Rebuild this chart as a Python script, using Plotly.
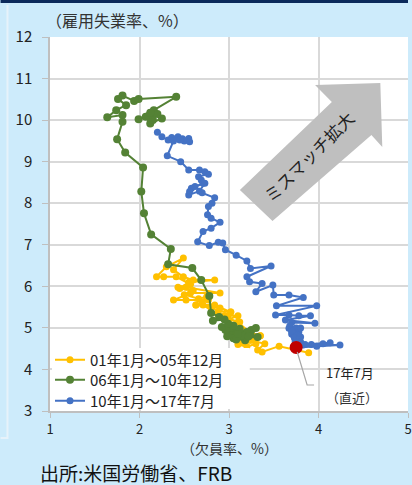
import plotly.graph_objects as go

# ---------------- data ----------------
series_names = ["01年1月～05年12月", "06年1月～10年12月", "10年1月～17年7月"]

# 2001/01 - 2005/12 : vacancy rate (x), unemployment rate (y)
s01_x = [3.89, 3.56, 3.37, 3.32, 3.40, 3.24, 3.35, 3.15, 3.30, 3.10, 2.99, 2.88,
         2.71, 2.90, 3.02, 2.84, 2.63, 2.77, 2.52, 2.38, 2.57, 2.90, 2.52, 2.43,
         2.57, 2.41, 2.27, 2.19, 2.30, 2.49, 2.38, 2.49, 2.60, 2.84, 2.55, 2.45,
         2.60, 2.50, 2.66, 2.75, 2.70, 2.63, 2.80, 2.88, 3.02, 2.95, 3.10, 2.99,
         3.12, 3.00, 3.05, 3.15, 3.24, 3.35, 3.30, 3.15, 3.24, 3.30, 3.20, 3.10]
s01_y = [4.40, 4.56, 4.42, 4.47, 4.62, 4.70, 4.81, 4.66, 4.76, 5.14, 5.24, 5.31,
         5.55, 5.48, 5.38, 5.55, 5.55, 5.67, 5.67, 5.67, 5.84, 5.84, 5.98, 5.98,
         6.05, 6.23, 6.23, 6.23, 6.47, 6.68, 6.40, 6.23, 6.15, 6.15, 6.10, 5.95,
         5.90, 5.80, 5.70, 5.75, 5.62, 5.55, 5.50, 5.40, 5.38, 5.30, 5.29, 5.20,
         5.14, 5.10, 5.02, 4.95, 4.90, 4.81, 4.76, 4.66, 4.70, 4.62, 4.55, 4.60]

# 2006/01 - 2010/12
s06_x = [3.05, 3.15, 3.25, 3.12, 3.30, 3.20, 3.10, 3.32, 3.05, 3.18, 3.24, 3.00,
         3.10, 3.20, 3.15, 2.98, 3.08, 3.22, 3.12, 3.02, 3.10, 2.96, 3.05, 2.92,
         2.99, 2.89, 2.82, 2.95, 2.80, 2.78, 2.69, 2.59, 2.32, 2.35, 2.13, 2.05,
         2.02, 2.04, 1.84, 1.75, 1.81, 1.81, 1.64, 1.74, 1.85, 1.76, 1.81, 1.94,
         1.99, 2.41, 2.16, 2.14, 2.07, 2.12, 2.25, 2.20, 1.99, 2.10, 2.15, 2.12]
s06_y = [4.90, 4.85, 4.95, 4.80, 5.00, 4.78, 4.88, 4.78, 4.75, 4.70, 4.85, 4.92,
         4.95, 4.90, 4.82, 4.80, 4.72, 4.80, 4.98, 5.00, 4.85, 4.95, 5.05, 5.02,
         5.10, 5.26, 5.17, 5.20, 5.36, 5.77, 6.15, 6.44, 6.53, 6.90, 7.25, 7.76,
         8.28, 8.86, 9.22, 9.54, 9.96, 10.12, 10.07, 10.24, 10.36, 10.51, 10.59, 10.46,
         10.51, 10.56, 10.24, 10.08, 10.08, 9.92, 10.04, 10.15, 10.02, 10.10, 10.00, 10.18]

# 2010/01 - 2017/07
s10_x = [2.20, 2.25, 2.32, 2.36, 2.43, 2.48, 2.55, 2.50, 2.56, 2.45, 2.38, 2.31,
         2.46, 2.55, 2.67, 2.73, 2.77, 2.66, 2.69, 2.71, 2.58, 2.56, 2.55, 2.67,
         2.73, 2.62, 2.70, 2.84, 2.81, 2.77, 2.76, 2.80, 2.90, 2.80, 2.71, 2.65,
         2.78, 2.88, 2.93, 2.96, 3.08, 3.20, 3.24, 3.47, 3.20, 3.23, 3.37, 3.30,
         3.49, 3.50, 3.67, 3.83, 3.53, 3.98, 3.52, 3.67, 3.78, 3.91, 3.63, 3.96,
         3.70, 3.67, 3.72, 3.68, 3.75, 3.70, 3.76, 3.72, 3.80, 3.74, 3.70, 3.78,
         3.74, 3.80, 3.72, 3.76, 3.70, 3.75, 3.73, 3.78, 3.74, 3.80, 3.76, 3.83,
         4.13, 3.92, 4.05, 3.85, 4.24, 3.98, 3.75]
s10_y = [9.71, 9.60, 9.52, 9.58, 9.60, 9.55, 9.56, 9.50, 9.48, 9.52, 9.50, 9.14,
         9.00, 8.80, 8.80, 8.76, 8.70, 8.64, 8.56, 8.48, 8.36, 8.28, 8.20, 8.29,
         8.48, 8.40, 8.25, 8.13, 8.00, 7.92, 7.72, 7.64, 7.54, 7.40, 7.32, 7.07,
         6.98, 7.06, 7.04, 6.88, 6.75, 6.61, 6.43, 6.49, 6.23, 6.11, 6.07, 5.87,
         6.03, 5.79, 5.79, 5.73, 5.53, 5.53, 5.31, 5.31, 5.29, 5.29, 5.19, 5.11,
         5.13, 4.99, 4.91, 5.05, 5.00, 4.95, 4.87, 4.82, 4.78, 4.75, 4.85, 4.90,
         4.95, 5.00, 4.88, 4.83, 4.92, 4.80, 4.76, 4.72, 4.68, 4.66, 4.62, 4.59,
         4.64, 4.60, 4.62, 4.60, 4.59, 4.56, 4.53]

latest_label = ["17年7月", "（直近）"]
arrow_label = "ミスマッチ拡大"
x_title = "（欠員率、%）"
y_title = "（雇用失業率、%）"
source_text = "出所:米国労働省、FRB"
x_ticks = [1, 2, 3, 4, 5]
y_ticks = [3, 4, 5, 6, 7, 8, 9, 10, 11, 12]

# ---------------- styling / layout ----------------
W, H = 412, 485
L, R, T, B = 50, 0, 37, 74
PW, PH = W - L - R, H - T - B
FONT = "Noto Sans CJK JP, Noto Sans, sans-serif"


def px(xp):
    return (xp - L) / PW


def py(yp):
    return (H - B - yp) / PH


colors = ["#FFC000", "#548235", "#4472C4"]
msize = [7, 8, 7]
legend_ids = ["legend", "legend2", "legend3"]
legend_rows_px = [360, 380, 401]

fig = go.Figure()
for name, xs, ys, c, ms, lg in zip(series_names, [s01_x, s06_x, s10_x], [s01_y, s06_y, s10_y],
                                   colors, msize, legend_ids):
    fig.add_trace(go.Scatter(x=xs, y=ys, mode="lines+markers", name=name, legend=lg,
                             line=dict(color=c, width=2),
                             marker=dict(color=c, size=ms),
                             hoverinfo="skip"))

fig.add_trace(go.Scatter(x=[s10_x[-1]], y=[s10_y[-1]], mode="markers",
                         marker=dict(color="#C00000", size=13), showlegend=False,
                         hoverinfo="skip"))

shapes = []
# white backing behind the legend block
shapes.append(dict(type="rect", xref="paper", yref="paper", x0=px(52), x1=px(252), y0=py(409), y1=py(348),
                   fillcolor="#FFFFFF", line=dict(width=0), layer="above"))
# top navy bar
shapes.append(dict(type="rect", xref="paper", yref="paper", x0=px(0), x1=px(W), y0=py(3), y1=py(0),
                   fillcolor="#0B2A5B", line=dict(width=0), layer="above"))
# left frame line
shapes.append(dict(type="path", xref="paper", yref="paper",
                   path=f"M {px(7)},{py(5)} L {px(7)},{py(438)} L {px(0)},{py(438)}",
                   line=dict(color="#E6F2FA", width=2), layer="above"))
# big arrow
pts = [(242, 190), (335, 102), (318, 85), (384, 83), (386, 147), (375, 135), (275, 221)]
path = "M " + " L ".join(f"{px(a)},{py(b)}" for a, b in pts) + " Z"
shapes.append(dict(type="path", xref="paper", yref="paper", path=path,
                   fillcolor="#BFBFBF", line=dict(width=0), layer="above"))
# leader line for latest point
shapes.append(dict(type="path", xref="paper", yref="paper",
                   path=f"M {px(300)},{py(352)} L {px(310)},{py(385)} L {px(317)},{py(385)}",
                   line=dict(color="#A6A6A6", width=1.2), layer="above"))

annotations = [
    dict(text=y_title, xref="paper", yref="paper", x=px(44), y=py(20), xanchor="left", yanchor="middle",
         showarrow=False, font=dict(size=16, color="#333333", family=FONT)),
    dict(text=x_title, xref="paper", yref="paper", x=px(231), y=py(448), xanchor="center", yanchor="middle",
         showarrow=False, font=dict(size=14, color="#333333", family=FONT)),
    dict(text=source_text, xref="paper", yref="paper", x=px(38), y=py(472), xanchor="left", yanchor="middle",
         showarrow=False, font=dict(size=19, color="#111111", family=FONT)),
    dict(text=arrow_label, xref="paper", yref="paper", x=px(311), y=py(156), xanchor="center", yanchor="middle",
         textangle=-45, showarrow=False, font=dict(size=17, color="#222222", family=FONT)),
    dict(text=latest_label[0], xref="paper", yref="paper", x=px(327), y=py(372), xanchor="left", yanchor="middle",
         showarrow=False, font=dict(size=13, color="#222222", family=FONT)),
    dict(text=latest_label[1], xref="paper", yref="paper", x=px(355), y=py(397), xanchor="center", yanchor="middle",
         showarrow=False, font=dict(size=13, color="#333333", family=FONT)),
]

legend_style = dict(xanchor="left", yanchor="middle", bgcolor="rgba(0,0,0,0)",
                    font=dict(size=15, family=FONT, color="#222222"), itemwidth=30,
                    borderwidth=0)
fig.update_layout(
    width=W, height=H,
    margin=dict(l=L, r=R, t=T, b=B, pad=0),
    paper_bgcolor="#CDEBFB", plot_bgcolor="#FFFFFF",
    font=dict(family=FONT, color="#222222"),
    showlegend=True,
    shapes=shapes, annotations=annotations,
)
for lg, row in zip(legend_ids, legend_rows_px):
    fig.update_layout({lg: dict(x=px(50), y=py(row), **legend_style)})

fig.update_xaxes(range=[1, 5], tickvals=x_ticks, showgrid=True, gridcolor="#D9D9D9", gridwidth=1.5,
                 showline=True, linecolor="#BFBFBF", linewidth=1.5, ticks="outside", ticklen=5,
                 tickcolor="#BFBFBF", tickfont=dict(size=13, color="#222222"), zeroline=False,
                 ticklabeloverflow="allow", ticklabelstandoff=1)
fig.update_yaxes(range=[3, 12], tickvals=y_ticks, showgrid=True, gridcolor="#D9D9D9", gridwidth=1.5,
                 showline=True, linecolor="#BFBFBF", linewidth=1.5, ticks="outside", ticklen=6,
                 tickcolor="#BFBFBF", tickfont=dict(size=15, color="#222222"), zeroline=False,
                 ticklabelstandoff=7)

fig.write_html("out.html", config={"displayModeBar": False},
               post_script="document.body.style.margin='0px';")
